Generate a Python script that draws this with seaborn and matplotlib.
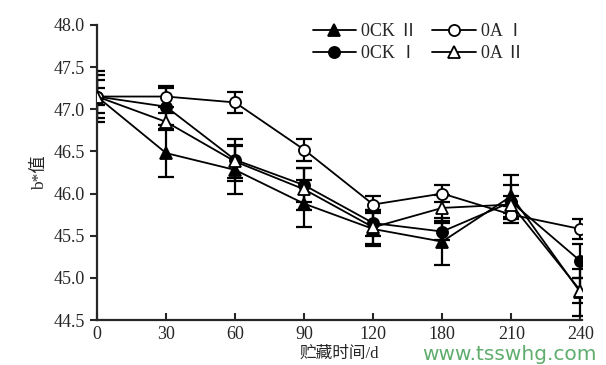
import matplotlib
matplotlib.use('Agg')
import matplotlib.pyplot as plt
import numpy as np
import pandas as pd
import seaborn as sns

days = ["0", "30", "60", "90", "120", "180", "210", "240"]

ock2 = [47.15, 46.48, 46.28, 45.88, 45.58, 45.43, 45.97, 44.83]
ock2_err = [0.25, 0.28, 0.28, 0.28, 0.20, 0.28, 0.25, 0.28]
oa1 = [47.15, 47.15, 47.08, 46.52, 45.87, 46.00, 45.75, 45.58]
oa1_err = [0.10, 0.12, 0.12, 0.13, 0.10, 0.10, 0.10, 0.12]
ock1 = [47.15, 47.03, 46.40, 46.10, 45.65, 45.55, 45.90, 45.20]
ock1_err = [0.20, 0.22, 0.25, 0.20, 0.15, 0.10, 0.20, 0.20]
oa2 = [47.15, 46.85, 46.38, 46.05, 45.60, 45.83, 45.87, 44.85]
oa2_err = [0.30, 0.10, 0.20, 0.25, 0.20, 0.15, 0.10, 0.15]

series = [
    ("0CK Ⅱ", ock2, ock2_err, "^", "black"),
    ("0CK Ⅰ", ock1, ock1_err, "o", "black"),
    ("0A Ⅰ", oa1, oa1_err, "o", "white"),
    ("0A Ⅱ", oa2, oa2_err, "^", "white"),
]

sns.set_style("ticks")
plt.rcParams['font.family'] = ['Liberation Serif', 'Noto Sans CJK SC', 'DejaVu Sans']
plt.rcParams['axes.linewidth'] = 1.6

fig = plt.figure(figsize=(6.06, 3.65), dpi=100)
ax = fig.add_axes([0.160, 0.123, 0.800, 0.809])

x = np.arange(len(days))
for label, vals, errs, mk, fc in series:
    df = pd.DataFrame({"x": x, "y": vals})
    sns.lineplot(data=df, x="x", y="y", ax=ax, color="black", lw=1.3,
                 marker=mk, markersize=8, markerfacecolor=fc,
                 markeredgecolor="black", markeredgewidth=1.3,
                 label=label, zorder=3)
    ax.errorbar(x, vals, yerr=errs, fmt="none", ecolor="black",
                elinewidth=1.6, capsize=5.5, capthick=1.6, zorder=2)

ax.set_xlim(0, 7.02)
ax.set_ylim(44.5, 48.0)
ax.set_xticks(x)
ax.set_xticklabels(days)
ax.set_yticks(np.arange(44.5, 48.01, 0.5))
ax.set_yticklabels([f"{v:.1f}" for v in np.arange(44.5, 48.01, 0.5)])
ax.tick_params(axis="x", direction="in", length=5, width=1.5, labelsize=13, pad=4)
ax.tick_params(axis="y", direction="out", length=5, width=1.5, labelsize=13)
sns.despine(ax=ax)

ax.set_xlabel("贮藏时间/d", fontsize=12, labelpad=2)
ax.set_ylabel("b*值", fontsize=12.5, labelpad=4)

ax.legend(ncol=2, loc="upper right", bbox_to_anchor=(0.915, 1.06), frameon=False,
          fontsize=13, handlelength=2.4, columnspacing=0.8, handletextpad=0.3,
          labelspacing=0.25)

fig.text(0.985, 0.003, "www.tsswhg.com", color="#5fae6e", fontsize=14.5,
         ha="right", va="bottom", family=["DejaVu Sans"])

fig.savefig("out.png", dpi=100)
